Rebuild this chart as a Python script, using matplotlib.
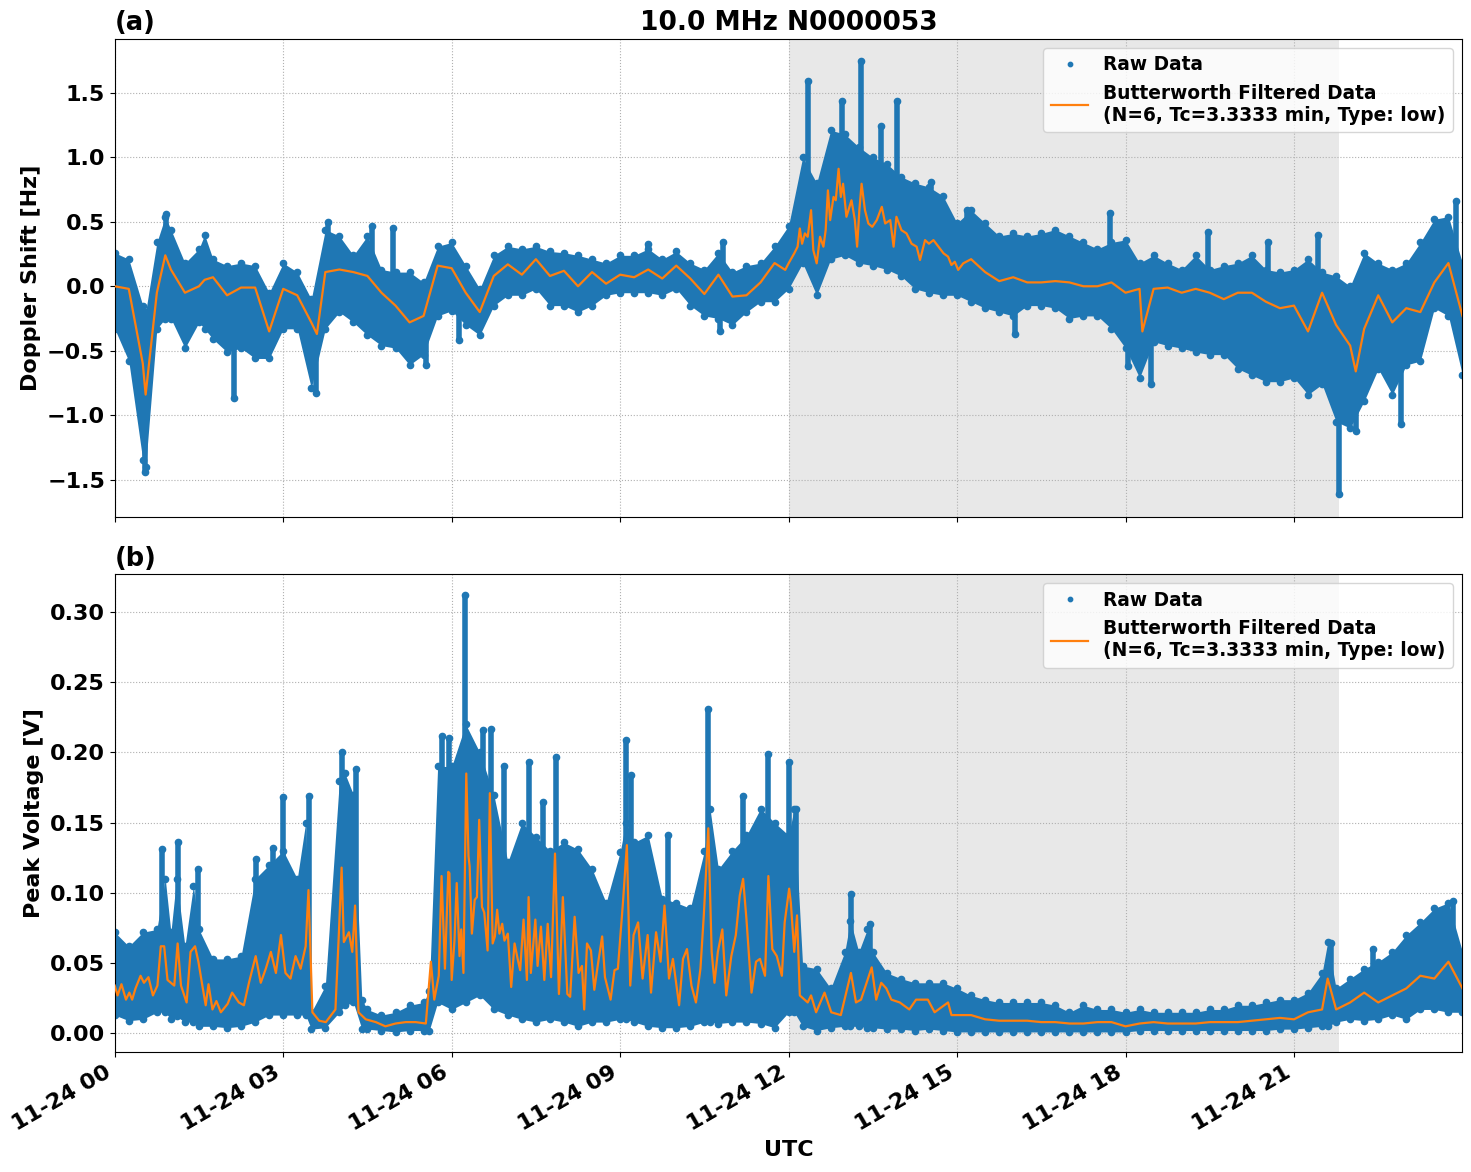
import numpy as np
import pandas as pd
import matplotlib
matplotlib.use('Agg')
import matplotlib.pyplot as plt
import matplotlib.dates as mdates

plt.rcParams['font.family'] = ['DejaVu Sans']
plt.rcParams['font.weight'] = 'bold'
plt.rcParams['axes.labelweight'] = 'bold'
plt.rcParams['axes.titleweight'] = 'bold'

day = pd.Timestamp('2024-11-24')

# ---- panel (a): Doppler shift [Hz], hours after 00 UTC ----
# raw data spread (lower / upper edge of the cloud of points)
dop_hours = [0.0, 0.25, 0.5, 0.55, 0.75, 0.9, 1.0, 1.25, 1.5, 1.6, 1.75, 2.0, 2.25, 2.5, 2.75,
             3.0, 3.25, 3.5, 3.75, 4.0, 4.25, 4.5, 4.75, 5.0, 5.25, 5.5, 5.75,
             6.0, 6.25, 6.5, 6.75, 7.0, 7.25, 7.5, 7.75, 8.0, 8.25, 8.5, 8.75,
             9.0, 9.25, 9.5, 9.75, 10.0, 10.25, 10.5, 10.75, 11.0, 11.25, 11.5, 11.75,
             12.0, 12.25, 12.5, 12.75, 13.0, 13.25, 13.5, 13.75, 14.0, 14.25, 14.5, 14.75,
             15.0, 15.25, 15.5, 15.75, 16.0, 16.25, 16.5, 16.75, 17.0, 17.25, 17.5, 17.75,
             18.0, 18.25, 18.5, 18.75, 19.0, 19.25, 19.5, 19.75, 20.0, 20.25, 20.5, 20.75,
             21.0, 21.25, 21.5, 21.75, 22.0, 22.25, 22.5, 22.75, 23.0, 23.25, 23.5, 23.75, 24.0]
dop_hi = [0.26, 0.21, -0.15, -0.2, 0.34, 0.54, 0.44, 0.18, 0.29, 0.40, 0.21, 0.16, 0.18, 0.16, -0.05,
          0.18, 0.11, -0.10, 0.44, 0.39, 0.24, 0.39, 0.13, 0.11, 0.11, 0.03, 0.31,
          0.34, 0.16, -0.02, 0.24, 0.31, 0.29, 0.31, 0.27, 0.26, 0.24, 0.21, 0.18,
          0.24, 0.24, 0.29, 0.21, 0.27, 0.18, 0.13, 0.26, 0.11, 0.16, 0.18, 0.31,
          0.47, 1.0, 0.8, 1.21, 1.18, 1.08, 1.0, 0.95, 0.85, 0.8, 0.77, 0.70,
          0.49, 0.59, 0.49, 0.39, 0.41, 0.39, 0.41, 0.44, 0.39, 0.34, 0.29, 0.34,
          0.36, 0.18, 0.24, 0.18, 0.13, 0.24, 0.13, 0.16, 0.18, 0.24, 0.13, 0.11,
          0.13, 0.21, 0.11, 0.08, 0.0, 0.26, 0.18, 0.13, 0.18, 0.34, 0.52, 0.54, 0.18]
dop_lo = [-0.33, -0.58, -1.35, -1.40, -0.33, -0.25, -0.25, -0.48, -0.28, -0.33, -0.41, -0.51, -0.48, -0.56, -0.56,
          -0.33, -0.33, -0.79, -0.33, -0.2, -0.28, -0.38, -0.46, -0.48, -0.61, -0.53, -0.23,
          -0.19, -0.3, -0.38, -0.15, -0.07, -0.07, -0.02, -0.15, -0.15, -0.2, -0.15, -0.07,
          -0.05, -0.05, -0.05, -0.07, -0.02, -0.15, -0.23, -0.25, -0.3, -0.2, -0.12, -0.12,
          -0.02, 0.18, -0.07, 0.21, 0.24, 0.18, 0.16, 0.13, 0.08, -0.02, -0.05, -0.07,
          -0.07, -0.12, -0.17, -0.2, -0.23, -0.15, -0.15, -0.17, -0.25, -0.23, -0.23, -0.33,
          -0.48, -0.71, -0.43, -0.46, -0.48, -0.51, -0.53, -0.53, -0.64, -0.69, -0.74, -0.74,
          -0.71, -0.84, -0.76, -1.05, -1.1, -0.89, -0.64, -0.84, -0.61, -0.58, -0.17, -0.23, -0.69]
# filtered curve
dop_filt_hours = [0.0, 0.25, 0.5, 0.55, 0.75, 0.9, 1.0, 1.25, 1.5, 1.6, 1.75, 2.0, 2.25, 2.5, 2.75,
                  3.0, 3.25, 3.5, 3.6, 3.75, 4.0, 4.25, 4.5, 4.75, 5.0, 5.25, 5.5, 5.75,
                  6.0, 6.25, 6.5, 6.75, 7.0, 7.25, 7.5, 7.75, 8.0, 8.25, 8.5, 8.75,
                  9.0, 9.25, 9.5, 9.75, 10.0, 10.25, 10.5, 10.75, 11.0, 11.25, 11.5, 11.75,
                  11.94, 12.0, 12.05, 12.10, 12.16, 12.20, 12.24, 12.29, 12.34, 12.40, 12.44, 12.50,
                  12.56, 12.62, 12.66, 12.70, 12.74, 12.80, 12.84, 12.89, 12.93, 12.97, 13.03, 13.12,
                  13.18, 13.22, 13.26, 13.30, 13.36, 13.42, 13.49, 13.57, 13.66, 13.72, 13.81, 13.87,
                  13.92, 14.01, 14.10, 14.19, 14.28, 14.34, 14.43, 14.50, 14.58, 14.67, 14.76, 14.84,
                  14.90, 14.96, 15.02, 15.11,
                  15.25, 15.5, 15.75, 16.0, 16.25, 16.5, 16.75, 17.0, 17.25, 17.5, 17.75,
                  18.0, 18.25, 18.3, 18.5, 18.75, 19.0, 19.25, 19.5, 19.75, 20.0, 20.25, 20.5, 20.75,
                  21.0, 21.25, 21.5, 21.75, 22.0, 22.1, 22.25, 22.5, 22.75, 23.0, 23.25, 23.5, 23.75, 24.0]
dop_filt = [0.0, -0.02, -0.6, -0.84, -0.05, 0.24, 0.13, -0.05, 0.0, 0.05, 0.07, -0.07, -0.01, -0.01, -0.35,
            -0.02, -0.07, -0.28, -0.37, 0.11, 0.13, 0.11, 0.08, -0.05, -0.15, -0.28, -0.23, 0.16,
            0.14, -0.05, -0.2, 0.08, 0.17, 0.09, 0.21, 0.08, 0.12, 0.0, 0.11, 0.02,
            0.09, 0.07, 0.13, 0.06, 0.16, 0.06, -0.06, 0.09, -0.08, -0.07, 0.03, 0.18,
            0.127, 0.178, 0.217, 0.255, 0.307, 0.448, 0.33, 0.41, 0.384, 0.59, 0.281, 0.178,
            0.384, 0.307, 0.435, 0.744, 0.513, 0.693, 0.667, 0.911, 0.693, 0.795, 0.539, 0.667,
            0.513, 0.307, 0.59, 0.795, 0.59, 0.487, 0.461, 0.513, 0.616, 0.487, 0.513, 0.307,
            0.539, 0.435, 0.41, 0.33, 0.307, 0.204, 0.358, 0.33, 0.358, 0.307, 0.255, 0.23,
            0.165, 0.19, 0.127, 0.178,
            0.21, 0.11, 0.04, 0.07, 0.03, 0.03, 0.04, 0.03, 0.0, 0.0, 0.03,
            -0.05, -0.02, -0.35, -0.02, -0.01, -0.05, -0.02, -0.05, -0.1, -0.05, -0.05, -0.12, -0.17,
            -0.15, -0.35, -0.05, -0.3, -0.46, -0.66, -0.33, -0.07, -0.28, -0.17, -0.2, 0.03, 0.18, -0.23]
# isolated columns of points
dop_spike_hours = [0.54, 0.91, 2.13, 3.59, 3.8, 4.59, 4.96, 5.55, 6.13, 9.49, 10.77, 10.83,
                   12.34, 12.95, 13.29, 13.65, 13.93, 14.54, 15.18, 16.03, 17.73, 18.04, 18.46,
                   19.46, 20.54, 21.43, 21.81, 22.1, 22.9, 23.89]
dop_spike_base = [-0.8, 0.2, -0.3, -0.3, 0.1, 0.1, 0.0, -0.3, -0.1, 0.1, 0.0, 0.1,
                  0.5, 0.7, 0.6, 0.5, 0.5, 0.3, 0.2, 0.0, 0.0, -0.1, -0.1,
                  0.0, -0.1, -0.1, -0.4, -0.5, -0.3, 0.1]
dop_spike_vals = [-1.44, 0.56, -0.87, -0.83, 0.5, 0.47, 0.45, -0.61, -0.42, 0.33, -0.35, 0.34,
                  1.59, 1.44, 1.75, 1.24, 1.44, 0.81, 0.59, -0.37, 0.57, -0.62, -0.76,
                  0.42, 0.34, 0.40, -1.61, -1.12, -1.07, 0.66]

# ---- panel (b): peak voltage [V] ----
pv_hours = [0.0, 0.25, 0.5, 0.75, 0.9, 1.0, 1.1, 1.25, 1.4, 1.5, 1.75, 2.0, 2.25, 2.5, 2.75,
            3.0, 3.25, 3.4, 3.5, 3.75, 4.0, 4.1, 4.25, 4.4, 4.5, 4.75, 5.0, 5.25, 5.5, 5.6, 5.75,
            6.0, 6.25, 6.5, 6.75, 7.0, 7.25, 7.5, 7.75, 8.0, 8.25, 8.5, 8.75,
            9.0, 9.1, 9.25, 9.5, 9.75, 10.0, 10.25, 10.5, 10.6, 10.75, 11.0, 11.25, 11.5, 11.75,
            12.0, 12.1, 12.25, 12.5, 12.75, 13.0, 13.1, 13.25, 13.4, 13.5, 13.75, 14.0, 14.25, 14.5, 14.75,
            15.0, 15.25, 15.5, 15.75, 16.0, 16.25, 16.5, 16.75, 17.0, 17.25, 17.5, 17.75,
            18.0, 18.25, 18.5, 18.75, 19.0, 19.25, 19.5, 19.75, 20.0, 20.25, 20.5, 20.75,
            21.0, 21.25, 21.5, 21.6, 21.75, 22.0, 22.25, 22.5, 22.75, 23.0, 23.25, 23.5, 23.75, 24.0]
pv_hi = [0.072, 0.062, 0.072, 0.074, 0.110, 0.072, 0.110, 0.062, 0.105, 0.074, 0.053, 0.053, 0.055, 0.110, 0.120,
         0.130, 0.110, 0.150, 0.015, 0.034, 0.180, 0.185, 0.170, 0.024, 0.017, 0.013, 0.015, 0.020, 0.022, 0.030, 0.190,
         0.190, 0.220, 0.200, 0.170, 0.122, 0.150, 0.140, 0.130, 0.136, 0.131, 0.117, 0.093,
         0.129, 0.150, 0.136, 0.141, 0.096, 0.093, 0.089, 0.130, 0.160, 0.117, 0.130, 0.141, 0.160, 0.150,
         0.141, 0.160, 0.048, 0.046, 0.032, 0.058, 0.080, 0.058, 0.074, 0.058, 0.043, 0.039, 0.036, 0.036, 0.036,
         0.032, 0.027, 0.024, 0.022, 0.022, 0.022, 0.022, 0.020, 0.015, 0.020, 0.017, 0.017,
         0.015, 0.017, 0.015, 0.015, 0.015, 0.015, 0.017, 0.017, 0.020, 0.020, 0.022, 0.024,
         0.024, 0.029, 0.043, 0.065, 0.032, 0.039, 0.046, 0.051, 0.058, 0.070, 0.079, 0.089, 0.093, 0.058]
pv_lo = [0.013, 0.009, 0.010, 0.015, 0.015, 0.010, 0.012, 0.008, 0.008, 0.005, 0.005, 0.004, 0.005, 0.008, 0.013,
         0.013, 0.013, 0.013, 0.003, 0.004, 0.015, 0.020, 0.022, 0.003, 0.003, 0.002, 0.001, 0.002, 0.002, 0.002, 0.022,
         0.017, 0.022, 0.027, 0.017, 0.013, 0.010, 0.008, 0.010, 0.008, 0.005, 0.008, 0.008,
         0.010, 0.010, 0.008, 0.005, 0.004, 0.004, 0.005, 0.008, 0.008, 0.007, 0.008, 0.008, 0.007, 0.004,
         0.015, 0.015, 0.005, 0.002, 0.004, 0.005, 0.005, 0.005, 0.004, 0.004, 0.003, 0.003, 0.002, 0.003, 0.002,
         0.001, 0.001, 0.001, 0.001, 0.001, 0.001, 0.001, 0.001, 0.001, 0.001, 0.001, 0.001,
         0.001, 0.002, 0.002, 0.002, 0.002, 0.002, 0.002, 0.002, 0.002, 0.002, 0.002, 0.003,
         0.003, 0.004, 0.005, 0.005, 0.008, 0.010, 0.009, 0.010, 0.013, 0.010, 0.017, 0.017, 0.015, 0.015]
pv_filt_hours = [0.0, 0.05, 0.12, 0.20, 0.26, 0.31, 0.37, 0.46, 0.52, 0.60, 0.68, 0.76, 0.82, 0.88, 0.94,
                 1.06, 1.12, 1.18, 1.28, 1.35, 1.43, 1.49, 1.56, 1.62, 1.67, 1.74, 1.81, 1.89, 2.01, 2.09,
                 2.21, 2.30, 2.39, 2.51, 2.60, 2.69, 2.78, 2.87, 2.96, 3.04, 3.13, 3.22, 3.31, 3.40, 3.45,
                 3.52, 3.64, 3.76, 3.93, 3.99, 4.04, 4.08, 4.17, 4.23, 4.28, 4.34, 4.47, 4.65, 4.82, 5.0,
                 5.18, 5.36, 5.54, 5.63, 5.69, 5.77, 5.82, 5.88, 5.94,
                 5.96, 6.0, 6.05, 6.09, 6.14, 6.17, 6.21, 6.26, 6.30, 6.32, 6.36, 6.41, 6.45, 6.49, 6.54,
                 6.58, 6.64, 6.68, 6.73, 6.77, 6.81, 6.85, 6.90, 6.94, 7.0, 7.06, 7.12, 7.18, 7.22, 7.28,
                 7.34, 7.37, 7.41, 7.49, 7.53, 7.59, 7.65, 7.71, 7.77, 7.84, 7.91, 7.98, 8.06, 8.11, 8.19,
                 8.26, 8.32, 8.36, 8.41, 8.48, 8.54, 8.60, 8.68, 8.73, 8.83, 8.90, 8.96,
                 9.05, 9.12, 9.18, 9.24, 9.32, 9.40, 9.49, 9.55, 9.64, 9.72, 9.79, 9.87, 9.94, 10.05,
                 10.12, 10.19, 10.27, 10.35, 10.43, 10.49, 10.57, 10.63, 10.68, 10.74, 10.82, 10.89, 10.98,
                 11.06, 11.13, 11.19, 11.25, 11.34, 11.42, 11.49, 11.58, 11.64, 11.71, 11.79, 11.88, 11.93,
                 12.01, 12.04, 12.10, 12.15, 12.20, 12.34, 12.40, 12.49, 12.64, 12.76, 12.93, 13.11, 13.20,
                 13.29, 13.48, 13.56, 13.65, 13.74, 13.83, 13.98, 14.15, 14.27, 14.48, 14.60, 14.84, 14.90,
                 15.0, 15.25, 15.5, 15.75, 16.0, 16.25, 16.5, 16.75, 17.0, 17.25, 17.5, 17.75,
                 18.0, 18.25, 18.5, 18.75, 19.0, 19.25, 19.5, 19.75, 20.0, 20.25, 20.5, 20.75,
                 21.0, 21.25, 21.5, 21.6, 21.75, 22.0, 22.25, 22.5, 22.75, 23.0, 23.25, 23.5, 23.75, 24.0]
pv_filt = [0.034, 0.027, 0.035, 0.024, 0.029, 0.024, 0.032, 0.041, 0.036, 0.040, 0.027, 0.034, 0.062, 0.062, 0.038,
           0.034, 0.064, 0.034, 0.022, 0.058, 0.062, 0.051, 0.034, 0.020, 0.035, 0.017, 0.023, 0.015, 0.021, 0.029,
           0.022, 0.020, 0.036, 0.055, 0.036, 0.046, 0.058, 0.043, 0.070, 0.043, 0.039, 0.055, 0.046, 0.062, 0.102,
           0.015, 0.009, 0.008, 0.017, 0.070, 0.118, 0.065, 0.072, 0.058, 0.091, 0.015, 0.010, 0.008, 0.005, 0.007,
           0.008, 0.008, 0.007, 0.051, 0.024, 0.041, 0.112, 0.046, 0.115,
           0.114, 0.038, 0.066, 0.107, 0.055, 0.074, 0.043, 0.185, 0.126, 0.119, 0.071, 0.095, 0.097, 0.152, 0.090,
           0.086, 0.059, 0.171, 0.064, 0.069, 0.088, 0.071, 0.078, 0.066, 0.071, 0.033, 0.064, 0.052, 0.045, 0.081,
           0.038, 0.097, 0.043, 0.081, 0.048, 0.076, 0.038, 0.078, 0.040, 0.128, 0.028, 0.097, 0.028, 0.026, 0.083,
           0.043, 0.048, 0.017, 0.064, 0.059, 0.031, 0.048, 0.069, 0.040, 0.024, 0.045, 0.046,
           0.093, 0.134, 0.034, 0.070, 0.079, 0.039, 0.070, 0.029, 0.072, 0.051, 0.091, 0.039, 0.053, 0.020,
           0.053, 0.060, 0.034, 0.022, 0.046, 0.084, 0.146, 0.058, 0.036, 0.058, 0.074, 0.027, 0.055,
           0.070, 0.098, 0.110, 0.081, 0.029, 0.051, 0.053, 0.041, 0.112, 0.060, 0.055, 0.041, 0.079,
           0.103, 0.093, 0.058, 0.084, 0.027, 0.022, 0.027, 0.015, 0.029, 0.015, 0.013, 0.043, 0.022,
           0.024, 0.047, 0.024, 0.036, 0.032, 0.024, 0.022, 0.017, 0.024, 0.024, 0.015, 0.022, 0.013,
           0.013, 0.013, 0.010, 0.009, 0.009, 0.009, 0.008, 0.008, 0.007, 0.007, 0.008, 0.008,
           0.005, 0.007, 0.008, 0.007, 0.007, 0.007, 0.008, 0.008, 0.008, 0.009, 0.010, 0.011,
           0.010, 0.015, 0.017, 0.039, 0.017, 0.022, 0.029, 0.022, 0.027, 0.032, 0.041, 0.039, 0.051, 0.032]
pv_spike_hours = [0.85, 1.13, 1.49, 2.51, 2.81, 2.99, 3.46, 4.05, 4.3, 5.83, 5.95, 6.24, 6.55, 6.7,
                  6.93, 7.38, 7.62, 7.86, 9.1, 9.2, 9.85, 10.57, 11.19, 11.64, 12.0, 12.14, 13.12,
                  13.45, 21.66, 22.4, 23.83]
pv_spike_vals = [0.131, 0.136, 0.117, 0.124, 0.132, 0.168, 0.169, 0.200, 0.188, 0.212, 0.210, 0.312, 0.216, 0.217,
                 0.190, 0.193, 0.165, 0.197, 0.209, 0.184, 0.141, 0.231, 0.169, 0.199, 0.193, 0.160, 0.099,
                 0.078, 0.064, 0.060, 0.0945]
pv_spike_base = [0.03] * len(pv_spike_hours)

shade_start, shade_end = 12.0, 21.8
filt_label = 'Butterworth Filtered Data\n(N=6, Tc=3.3333 min, Type: low)'


def to_time(hours):
    return (day + pd.to_timedelta(np.asarray(hours, dtype=float), unit='h')).to_numpy()


def draw_panel(ax, hours, lo, hi, f_hours, filt, spike_h, spike_b, spike_v):
    t = to_time(hours)
    ax.axvspan(to_time([shade_start])[0], to_time([shade_end])[0], color='gray', alpha=0.18, lw=0, zorder=0)
    ax.fill_between(t, lo, hi, color='C0', lw=0, zorder=2)
    ax.vlines(to_time(spike_h), spike_b, spike_v, color='C0', lw=4, zorder=2)
    ax.plot(t, hi, '.', color='C0', ms=9, zorder=2, label='Raw Data')
    ax.plot(t, lo, '.', color='C0', ms=9, zorder=2)
    ax.plot(to_time(spike_h), spike_v, '.', color='C0', ms=9, zorder=2)
    ax.plot(to_time(f_hours), filt, color='C1', lw=1.6, zorder=3, label=filt_label)
    ax.grid(True, linestyle=':', color='#b0b0b0')
    ax.tick_params(labelsize=16)
    ax.legend(loc='upper right', fontsize=13.4, markerscale=0.7)


fig, (ax1, ax2) = plt.subplots(2, 1, sharex=True, figsize=(14.71, 11.72), dpi=100)
draw_panel(ax1, dop_hours, dop_lo, dop_hi, dop_filt_hours, dop_filt,
           dop_spike_hours, dop_spike_base, dop_spike_vals)
draw_panel(ax2, pv_hours, pv_lo, pv_hi, pv_filt_hours, pv_filt,
           pv_spike_hours, pv_spike_base, pv_spike_vals)

ax1.set_title('10.0 MHz N0000053', fontsize=19)
ax1.set_title('(a)', loc='left', fontsize=18.5)
ax2.set_title('(b)', loc='left', fontsize=18.5)
ax1.set_ylabel('Doppler Shift [Hz]', fontsize=16)
ax2.set_ylabel('Peak Voltage [V]', fontsize=16)
ax2.set_xlabel('UTC', fontsize=16)

ax2.xaxis.set_major_locator(mdates.HourLocator(byhour=range(0, 24, 3)))
ax2.xaxis.set_major_formatter(mdates.DateFormatter('%m-%d %H'))
ax2.set_xlim(to_time([0.0])[0], to_time([23.995])[0])
ax1.set_ylim(-1.79, 1.92)
ax2.set_ylim(-0.0136, 0.327)
fig.autofmt_xdate()

fig.subplots_adjust(left=0.078, right=0.994, top=0.967, bottom=0.102, hspace=0.119)
fig.savefig('out.png')
